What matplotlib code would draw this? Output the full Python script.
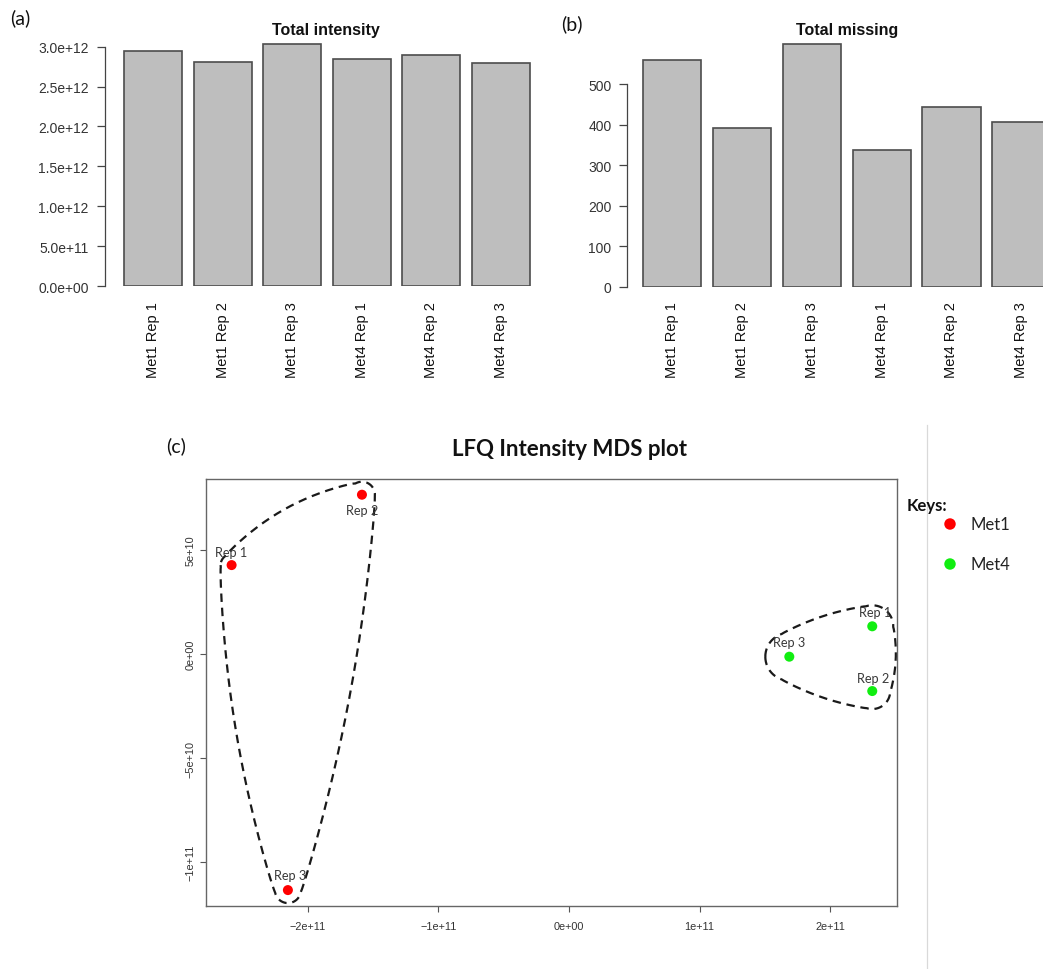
import numpy as np
import matplotlib
matplotlib.use("Agg")
import matplotlib.pyplot as plt

W, H, DPI = 1043, 970, 100

# ---- data -------------------------------------------------------------
samples = ["Met1 Rep 1", "Met1 Rep 2", "Met1 Rep 3",
           "Met4 Rep 1", "Met4 Rep 2", "Met4 Rep 3"]
total_intensity = [2.95e12, 2.81e12, 3.03e12, 2.845e12, 2.895e12, 2.795e12]
total_missing = [561, 391, 600, 338, 445, 406]

intensity_ticks = [0, 0.5e12, 1.0e12, 1.5e12, 2.0e12, 2.5e12, 3.0e12]
intensity_tick_labels = ["0.0e+00", "5.0e+11", "1.0e+12", "1.5e+12",
                         "2.0e+12", "2.5e+12", "3.0e+12"]
missing_ticks = [0, 100, 200, 300, 400, 500]
missing_tick_labels = ["0", "100", "200", "300", "400", "500"]

groups = ["Met1", "Met4"]
group_colors = ["#ff0000", "#11ee11"]
rep_labels = ["Rep 1", "Rep 2", "Rep 3"]
met1_x = [-2.583e11, -1.585e11, -2.152e11]
met1_y = [4.27e10, 7.65e10, -1.134e11]
met4_x = [2.322e11, 2.322e11, 1.687e11]
met4_y = [1.33e10, -1.78e10, -1.3e9]

mds_xticks = [-2e11, -1e11, 0, 1e11, 2e11]
mds_xtick_labels = ["\u22122e+11", "\u22121e+11", "0e+00", "1e+11", "2e+11"]
mds_yticks = [-1e11, -5e10, 0, 5e10]
mds_ytick_labels = ["\u22121e+11", "\u22125e+10", "0e+00", "5e+10"]

# ---- styling ------------------------------------------------------------
R_FONT = "Liberation Sans"
DOC_FONT = "Lato"
BAR_FILL = "#bebebe"
BAR_EDGE = "#4d4d4d"

fig = plt.figure(figsize=(W / DPI, H / DPI), dpi=DPI)


def px_axes(left, top, right, bottom, **kw):
    """Axes placed by pixel box (origin top-left)."""
    return fig.add_axes([left / W, 1 - bottom / H,
                         (right - left) / W, (bottom - top) / H], **kw)


def px_text(x, y, s, **kw):
    return fig.text(x / W, 1 - y / H, s, **kw)


def bar_panel(ax, values, ticks, tick_labels, xlim, ytop):
    centers = 0.7 + 1.2 * np.arange(len(values))
    ax.bar(centers, values, width=1.0, color=BAR_FILL,
           edgecolor=BAR_EDGE, linewidth=1.2)
    ax.set_xlim(*xlim)
    ax.set_ylim(0, ytop)
    for side in ("top", "right", "bottom"):
        ax.spines[side].set_visible(False)
    ax.spines["left"].set_bounds(ticks[0], ticks[-1])
    ax.spines["left"].set_color("#444444")
    ax.spines["left"].set_linewidth(0.9)
    ax.set_yticks(ticks)
    ax.set_yticklabels(tick_labels, fontsize=10, color="#333333", family=R_FONT)
    ax.tick_params(axis="y", length=5.8, width=0.9, color="#444444", pad=5.5)
    ax.set_xticks(centers)
    ax.set_xticklabels(samples, rotation=90, fontsize=10.5, family=R_FONT,
                       color="#111111", va="top", ha="center")
    ax.tick_params(axis="x", length=0, pad=10.5)
    ax.patch.set_visible(False)


# (a) Total intensity
ax_a = px_axes(104.5, 35.6, 546.6, 287.3)
bar_panel(ax_a, total_intensity, intensity_ticks, intensity_tick_labels,
          (-0.145, 7.488), 3.15e12)
px_text(326, 31, "Total intensity", ha="center", va="center",
        fontsize=11.5, fontweight="bold", family=R_FONT, color="#111111")
px_text(20.5, 18.5, "(a)", ha="center", va="center", fontsize=14,
        family=DOC_FONT, color="#111111")

# (b) Total missing
ax_b = px_axes(627.3, 36.8, 1067.2, 287.7)
bar_panel(ax_b, total_missing, missing_ticks, missing_tick_labels,
          (-0.07, 7.488), 620)
px_text(847, 31, "Total missing", ha="center", va="center",
        fontsize=11.5, fontweight="bold", family=R_FONT, color="#111111")
px_text(572, 24, "(b)", ha="center", va="center", fontsize=14,
        family=DOC_FONT, color="#111111")

# (c) MDS plot
ax_c = px_axes(206, 480, 897, 906.7)
ax_c.set_xlim(-2.779e11, 2.5115e11)
ax_c.set_ylim(-1.209e11, 8.405e10)
for sp in ax_c.spines.values():
    sp.set_color("#666666")
    sp.set_linewidth(1.0)
ax_c.set_xticks(mds_xticks)
ax_c.set_xticklabels(mds_xtick_labels, fontsize=7.8, family=R_FONT, color="#333333")
ax_c.set_yticks(mds_yticks)
ax_c.set_yticklabels(mds_ytick_labels, fontsize=7.8, family=R_FONT,
                     color="#333333", rotation=90, va="center")
ax_c.tick_params(axis="x", length=4.5, width=0.8, color="#555555", pad=6.5)
ax_c.tick_params(axis="y", length=4.3, width=0.8, color="#555555", pad=3.5)


def convex_hull(points):
    pts = sorted(map(tuple, points))

    def cross(o, a, b):
        return (a[0] - o[0]) * (b[1] - o[1]) - (a[1] - o[1]) * (b[0] - o[0])

    lower, upper = [], []
    for p in pts:
        while len(lower) >= 2 and cross(lower[-2], lower[-1], p) <= 0:
            lower.pop()
        lower.append(p)
    for p in reversed(pts):
        while len(upper) >= 2 and cross(upper[-2], upper[-1], p) <= 0:
            upper.pop()
        upper.append(p)
    return np.array(lower[:-1] + upper[:-1])


def rounded_hull(ax, xs, ys, radii, bulge, **kw):
    """Dashed outline enclosing a group: hull of discs around each point
    (pixel radii), with the straight sides bowed outward a little."""
    pts = ax.transData.transform(np.column_stack([xs, ys]))
    theta = np.linspace(0, 2 * np.pi, 180, endpoint=False)
    ring = np.column_stack([np.cos(theta), np.sin(theta)])
    cloud = np.vstack([p + r * ring for p, r in zip(pts, radii)])
    hull = convex_hull(cloud)          # counter-clockwise
    outline = []
    n = len(hull)
    for i in range(n):
        a, b = hull[i], hull[(i + 1) % n]
        seg = b - a
        length = np.hypot(*seg)
        if length > 6:
            normal = np.array([seg[1], -seg[0]]) / length
            s = np.linspace(0, 1, int(length // 2) + 2)[:-1]
            bow = bulge * np.sin(np.pi * s) ** 0.8
            outline.extend(a + np.outer(s, seg) + np.outer(bow, normal))
        else:
            outline.append(a)
    outline = np.array(outline + [outline[0]])
    data = ax.transData.inverted().transform(outline)
    ax.plot(data[:, 0], data[:, 1], **kw)


loop_style = dict(color="#1a1a1a", lw=1.6, ls=(0, (3.8, 2.6)), zorder=2)
rounded_hull(ax_c, met1_x, met1_y, [11, 13, 13], 12, **loop_style)
rounded_hull(ax_c, met4_x, met4_y, [21, 18, 24], 4, **loop_style)

label_offsets = {
    "Met1": [(0, 9.5), (0, -10.8), (1.5, 10.8)],
    "Met4": [(2, 10), (0.7, 9.5), (0, 10.8)],
}
for name, color, xs, ys in zip(groups, group_colors,
                               [met1_x, met4_x], [met1_y, met4_y]):
    ax_c.scatter(xs, ys, s=52, color=color, edgecolor="none", zorder=3)
    for x, y, lab, off in zip(xs, ys, rep_labels, label_offsets[name]):
        ax_c.annotate(lab, (x, y), xytext=off, textcoords="offset points",
                      ha="center", va="center", fontsize=9.2,
                      family=DOC_FONT, color="#3a3a3a", zorder=4)

px_text(569, 449, "LFQ Intensity MDS plot", ha="center", va="center",
        fontsize=16, fontweight="bold", family=DOC_FONT, color="#111111")
px_text(176.5, 446.7, "(c)", ha="center", va="center", fontsize=14,
        family=DOC_FONT, color="#111111")

# Key on the right, drawn in a pixel-space overlay
ax_k = px_axes(0, 0, W, H, zorder=0)
ax_k.set_xlim(0, W)
ax_k.set_ylim(H, 0)
ax_k.axis("off")
ax_k.plot([926.7, 926.7], [426, H], color="#d9d9d9", lw=0.9)
px_text(907, 506, "Keys:", ha="left", va="center", fontsize=12,
        fontweight="bold", family=DOC_FONT, color="#111111")
for i, (name, color) in enumerate(zip(groups, group_colors)):
    yk = 525 + 40 * i
    ax_k.scatter([950], [yk], s=68, color=color, edgecolor="none")
    px_text(970, yk, name, ha="left", va="center", fontsize=12,
            family=DOC_FONT, color="#222222")

fig.savefig("out.png", dpi=DPI)
